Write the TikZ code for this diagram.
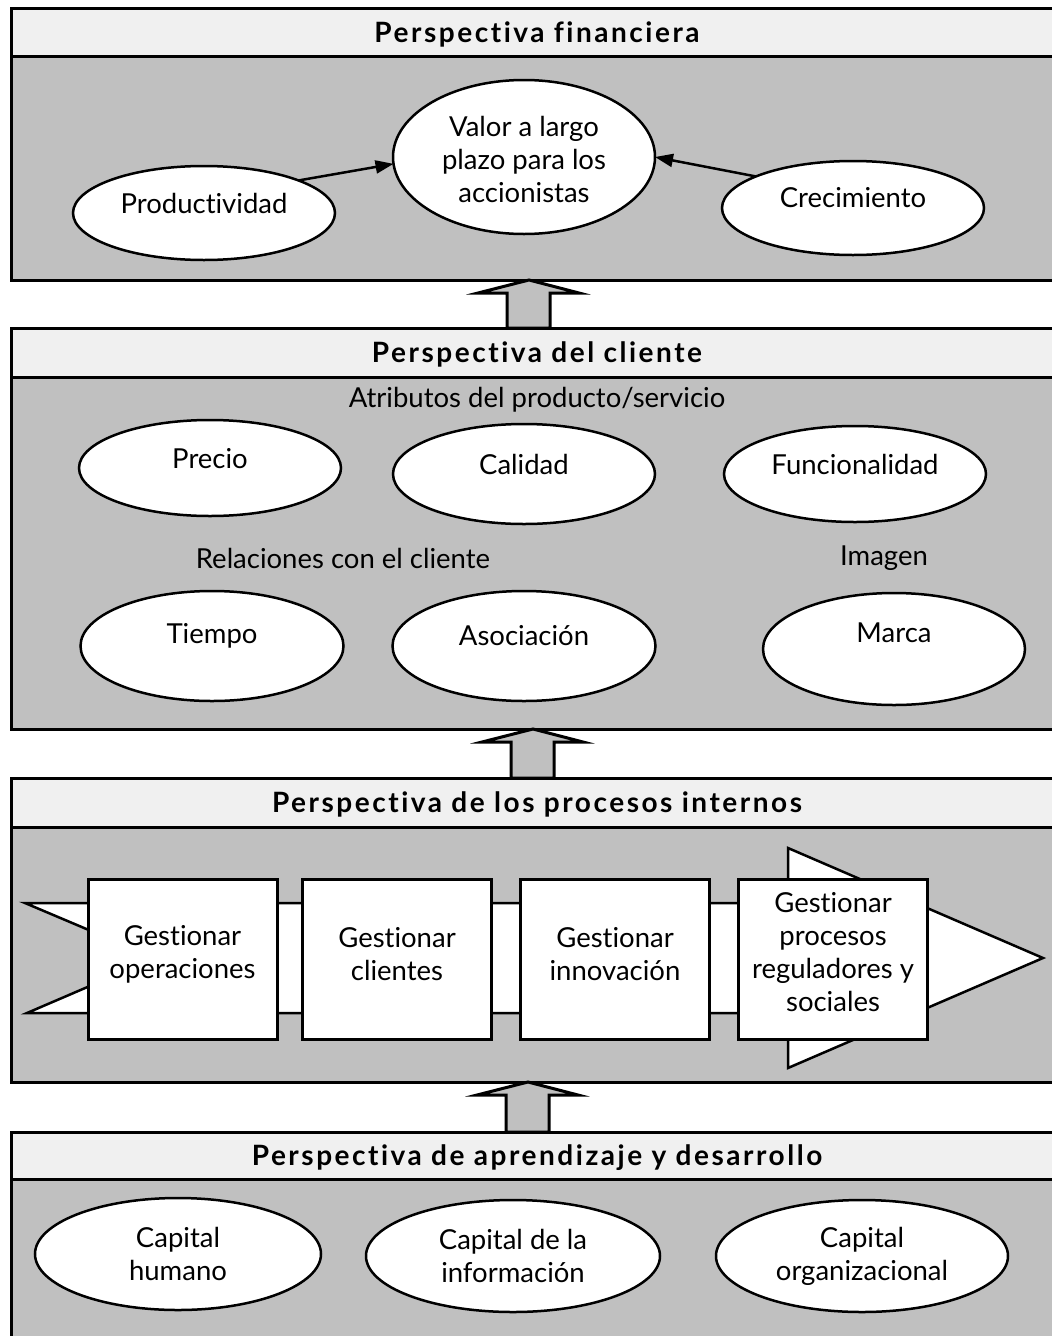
\documentclass[tikz,border=0pt]{standalone}
\usepackage{fontspec}
\setmainfont{Lato}[Ligatures=NoCommon]
\newfontfamily\hdrfont{Lato}[LetterSpace=9, Ligatures=NoCommon]
\usetikzlibrary{arrows.meta,calc,shapes.geometric}

\definecolor{panelgray}{RGB}{192,192,192}
\definecolor{headgray}{RGB}{240,240,240}

\begin{document}
\begin{tikzpicture}[x=1pt,y=-1pt,
  every node/.style={font=\fontsize{27.5}{33}\selectfont, inner sep=0pt, outer sep=0pt},
  header/.style={draw, line width=3pt, fill=headgray, rectangle, anchor=north west,
    minimum width=1052pt},
  htext/.style={font=\hdrfont\bfseries\fontsize{28}{30}\selectfont},
  body/.style={draw, line width=3pt, fill=panelgray, rectangle, anchor=north west,
    minimum width=1052pt},
  oval/.style={draw, line width=2.5pt, fill=white, ellipse},
  procbox/.style={draw, line width=3pt, fill=white, rectangle,
    minimum width=189pt, minimum height=160pt},
  txt/.style={align=center},
  blockarrow/.style={draw, line width=3pt, fill=panelgray, line join=miter},
  conn/.style={line width=2.5pt, -{Triangle[length=18pt,width=13pt]}},
  band/.style={draw, line width=2.5pt, fill=white, line join=miter}
]
\useasboundingbox (0,0) rectangle (1052,1336);
\clip (0,0) rectangle (1052,1336);

% ---- panels: body, then header bar with its title ----
\node[body, minimum height=224pt] (b1) at (11,56) {};
\node[header, minimum height=48pt,
  label={[htext,yshift=-2pt]center:Perspectiva financiera}] (h1) at (11,8) {};

\node[body, minimum height=352pt] (b2) at (11,377) {};
\node[header, minimum height=49pt,
  label={[htext,yshift=-2pt]center:Perspectiva del cliente}] (h2) at (11,328) {};

\node[body, minimum height=255pt] (b3) at (11,827) {};
\node[header, minimum height=49pt,
  label={[htext,yshift=-2pt]center:Perspectiva de los procesos internos}] (h3) at (11,778) {};

\node[body, minimum height=180pt] (b4) at (11,1179) {};
\node[header, minimum height=47pt,
  label={[htext,yshift=-2pt]center:Perspectiva de aprendizaje y desarrollo}] (h4) at (11,1132) {};

% ---- block arrows between panels ----
\foreach \lower/\upper/\dx in {h2/b1/-8, h3/b2/-4, h4/b3/-9}{
  \draw[blockarrow] let \p1=($(\upper.south)+(\dx,0)$), \p2=(\lower.north) in
    (\x1,\y1) -- (\x1+50pt,\y1-13pt) -- (\x1+21pt,\y1-13pt) -- (\x1+21pt,\y2)
    -- (\x1-22pt,\y2) -- (\x1-22pt,\y1-13pt) -- (\x1-51pt,\y1-13pt) -- cycle;
}

% ---- financial perspective ----
\node[oval, minimum width=262pt, minimum height=94pt,
  label={[yshift=10pt]center:Productividad}] (prod) at (204,213) {};
\node[oval, minimum width=262pt, minimum height=154pt,
  label={[txt,yshift=-2pt]center:Valor a largo\\plazo para los\\accionistas}] (valor) at (524,157) {};
\node[oval, minimum width=262pt, minimum height=94pt,
  label={[yshift=10pt]center:Crecimiento}] (crec) at (853,208) {};
\draw[conn] (prod.19) -- (valor.183);
\draw[conn] (crec.162) -- (valor.0);

% ---- customer perspective ----
\node (attr) at (537,400) {Atributos del producto/servicio};
\node[oval, minimum width=262pt, minimum height=96pt,
  label={[yshift=9pt]center:Precio}] (precio) at (210,468) {};
\node[oval, minimum width=262pt, minimum height=100pt,
  label={[yshift=10pt]center:Calidad}] (calidad) at (524,474) {};
\node[oval, minimum width=262pt, minimum height=96pt,
  label={[yshift=10pt]center:Funcionalidad}] (func) at (855,474) {};
\node (rel) at (343,558) {Relaciones con el cliente};
\node (img) at (884,558) {Imagen};
\node[oval, minimum width=263pt, minimum height=110pt,
  label={[yshift=10pt]center:Tiempo}] (tiempo) at (212,646) {};
\node[oval, minimum width=263pt, minimum height=110pt,
  label={[yshift=10pt]center:Asociación}] (asoc) at (524,646) {};
\node[oval, minimum width=262pt, minimum height=112pt,
  label={[yshift=16pt]center:Marca}] (marca) at (894,649) {};

% ---- internal process perspective ----
\draw[band] (25,903) -- (788,903) -- (788,848) -- (1043,958) -- (788,1068)
  -- (788,1013) -- (27,1013) -- (155,958) -- cycle;
\node[procbox, label={[txt,yshift=5pt]center:Gestionar\\operaciones}] (ops) at (182.5,959) {};
\node[procbox, label={[txt,yshift=5pt]center:Gestionar\\clientes}] (cli) at (397,959) {};
\node[procbox, label={[txt,yshift=5pt]center:Gestionar\\innovación}] (inn) at (615,959) {};
\node[procbox, label={[txt,yshift=7pt]center:Gestionar\\procesos\\reguladores y\\sociales}] (reg) at (833,959) {};

% ---- learning and growth perspective ----
\node[oval, minimum width=286pt, minimum height=112pt,
  label={[txt]center:Capital\\humano}] (hum) at (178,1254) {};
\node[oval, minimum width=294pt, minimum height=112pt,
  label={[txt]center:Capital de la\\información}] (inf) at (513,1256) {};
\node[oval, minimum width=292pt, minimum height=112pt,
  label={[txt]center:Capital\\organizacional}] (org) at (862,1256) {};
\end{tikzpicture}
\end{document}
